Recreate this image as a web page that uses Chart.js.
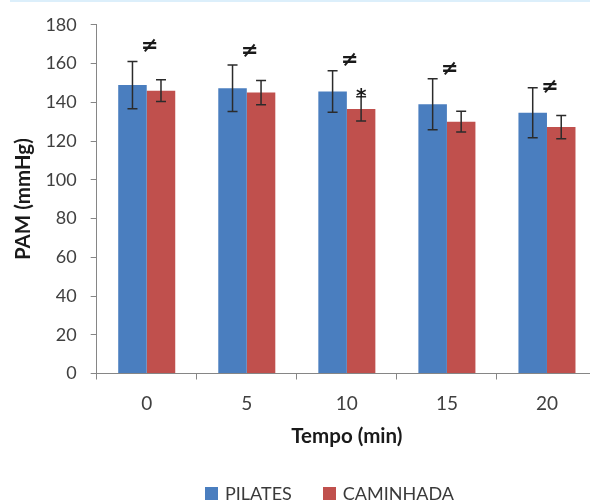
<!DOCTYPE html>
<html>
<head>
<meta charset="utf-8">
<script src="https://cdn.jsdelivr.net/npm/chart.js@4.4.1/dist/chart.umd.min.js"></script>
<style>
    html, body { margin: 0; padding: 0; background: #fff; overflow: hidden; width: 590px; height: 504px; }
    #wrap { position: relative; width: 590px; height: 504px; overflow: hidden; }
    #topline { position: absolute; left: 10px; right: 0; top: 0; height: 2px; background: #dceffb; }
    #chart { position: absolute; left: 0; top: 0; }
    #legend { position: absolute; left: 205px; top: 482px; display: flex; align-items: center;
              font-family: Lato, sans-serif; font-size: 18px; color: #3a3a3a; white-space: nowrap; }
    .item { display: flex; align-items: center; margin-right: 31px; }
    .box { width: 13px; height: 13px; margin-right: 7px; }
</style>
</head>
<body>
<div id="wrap">
    <div id="topline"></div>
    <canvas id="chart" width="600" height="504"></canvas>
    <div id="legend"></div>
</div>
<script>
const categories = ['0', '5', '10', '15', '20'];
const pilates = [148.9, 147.3, 145.6, 139.0, 134.6];
const pilatesErr = [12.2, 12.0, 10.7, 13.2, 12.9];
const caminhada = [146.0, 145.0, 136.6, 130.0, 127.2];
const caminhadaErr = [5.6, 6.3, 6.2, 5.4, 6.0];
// markers above the bars: "≠" between groups, "*" on walking
const neqMarks = [169.0, 166.4, 161.8, 157.1, 147.8];
const starMarks = [null, null, 144.9, null, null];
const yMin = 0, yMax = 180, yStep = 20;

const errors = [pilatesErr, caminhadaErr];

const errorBars = {
    id: 'errorBars',
    afterDatasetsDraw(chart) {
        const ctx = chart.ctx;
        const y = chart.scales.y;
        ctx.save();
        ctx.strokeStyle = '#2b2b2b';
        ctx.lineWidth = 1.5;
        chart.data.datasets.forEach((ds, i) => {
            const meta = chart.getDatasetMeta(i);
            meta.data.forEach((bar, j) => {
                const v = ds.data[j], e = errors[i][j];
                const top = y.getPixelForValue(v + e);
                const bot = y.getPixelForValue(v - e);
                ctx.beginPath();
                ctx.moveTo(bar.x, top); ctx.lineTo(bar.x, bot);
                ctx.moveTo(bar.x - 5, top); ctx.lineTo(bar.x + 5, top);
                ctx.moveTo(bar.x - 5, bot); ctx.lineTo(bar.x + 5, bot);
                ctx.stroke();
            });
        });
        ctx.restore();
    }
};

const marks = {
    id: 'marks',
    afterDraw(chart) {
        const ctx = chart.ctx;
        const x = chart.scales.x, y = chart.scales.y;
        ctx.save();
        ctx.fillStyle = '#1a1a1a';
        ctx.textAlign = 'center';
        ctx.textBaseline = 'middle';
        ctx.font = 'bold 21px "DejaVu Sans"';
        neqMarks.forEach((v, j) => {
            if (v == null) return;
            ctx.fillText('≠', x.getPixelForValue(j) + 3, y.getPixelForValue(v));
        });
        const red = chart.getDatasetMeta(1);
        ctx.font = 'bold 20px "DejaVu Sans"';
        starMarks.forEach((v, j) => {
            if (v == null) return;
            ctx.fillText('*', red.data[j].x, y.getPixelForValue(v) + 4);
        });
        ctx.restore();
    }
};

const chart = new Chart(document.getElementById('chart'), {
    type: 'bar',
    data: {
        labels: categories,
        datasets: [
            { label: 'PILATES', data: pilates, backgroundColor: '#4a7ebf', borderWidth: 0 },
            { label: 'CAMINHADA', data: caminhada, backgroundColor: '#c0504d', borderWidth: 0 }
        ]
    },
    options: {
        responsive: false,
        animation: false,
        categoryPercentage: 0.57,
        barPercentage: 1.0,
        layout: { padding: { left: 4, right: 3, top: 20, bottom: 40 } },
        plugins: {
            legend: { display: false },
            tooltip: { enabled: false }
        },
        scales: {
            x: {
                grid: { drawOnChartArea: false, tickLength: 6, color: '#868686', offset: true },
                border: { color: '#868686' },
                ticks: { color: '#404040', font: { family: 'Lato', size: 19 }, padding: 13 },
                title: {
                    display: true, text: 'Tempo (min)', color: '#1a1a1a',
                    font: { family: 'Lato', size: 20.5, weight: 'bold' },
                    padding: { top: 0, bottom: 15 }
                },
                afterFit: s => { s.height = 90.5; }
            },
            y: {
                min: yMin, max: yMax,
                grid: { drawOnChartArea: false, tickLength: 6, color: '#868686' },
                border: { color: '#868686' },
                ticks: { stepSize: yStep, color: '#404040', font: { family: 'Lato', size: 18 }, padding: 14 },
                title: {
                    display: true, text: 'PAM (mmHg)', color: '#1a1a1a',
                    font: { family: 'Lato', size: 20.5, weight: 'bold' },
                    padding: { top: 7.5, bottom: 0 }
                },
                afterFit: s => { s.width = 92.7; }
            }
        }
    },
    plugins: [errorBars, marks]
});

// legend built from the datasets
const legend = document.getElementById('legend');
chart.data.datasets.forEach(ds => {
    const item = document.createElement('div');
    item.className = 'item';
    const box = document.createElement('span');
    box.className = 'box';
    box.style.background = ds.backgroundColor;
    item.appendChild(box);
    item.appendChild(document.createTextNode(ds.label));
    legend.appendChild(item);
});
</script>
</body>
</html>
